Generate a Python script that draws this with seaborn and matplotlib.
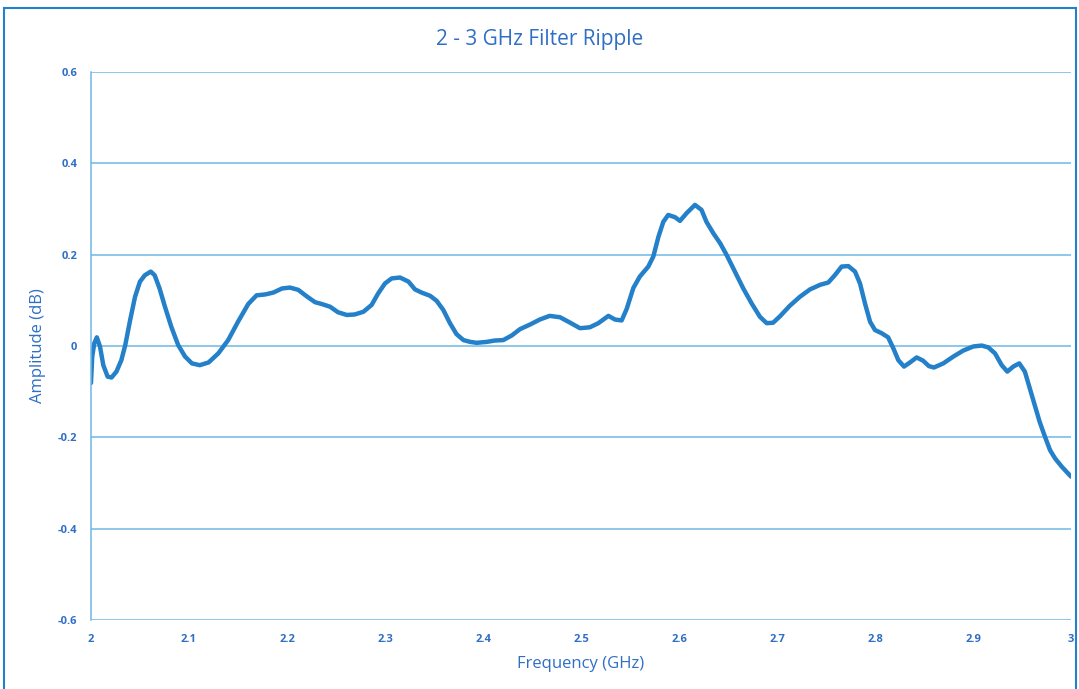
import matplotlib.pyplot as plt
import matplotlib.ticker as ticker
import pandas as pd
import seaborn as sns
from matplotlib.patches import Rectangle

# values
freq_ghz = [
    2.0000, 2.0013, 2.0034, 2.0060, 2.0092, 2.0126, 2.0170, 2.0210, 2.0260, 2.0310,
    2.0350, 2.0400, 2.0450, 2.0500, 2.0550, 2.0610, 2.0650, 2.0700, 2.0755, 2.0820,
    2.0890, 2.0960, 2.1030, 2.1110, 2.1200, 2.1300, 2.1400, 2.1500, 2.1605, 2.1690,
    2.1780, 2.1860, 2.1950, 2.2030, 2.2115, 2.2200, 2.2286, 2.2354, 2.2440, 2.2520,
    2.2610, 2.2690, 2.2780, 2.2864, 2.2930, 2.3000, 2.3068, 2.3153, 2.3240, 2.3306,
    2.3374, 2.3460, 2.3527, 2.3595, 2.3663, 2.3730, 2.3800, 2.3870, 2.3936, 2.4038,
    2.4120, 2.4207, 2.4293, 2.4378, 2.4480, 2.4580, 2.4680, 2.4786, 2.4890, 2.4990,
    2.5090, 2.5177, 2.5280, 2.5347, 2.5415, 2.5466, 2.5534, 2.5600, 2.5687, 2.5738,
    2.5790, 2.5840, 2.5890, 2.5960, 2.6010, 2.6078, 2.6163, 2.6230, 2.6280, 2.6350,
    2.6420, 2.6487, 2.6570, 2.6656, 2.6742, 2.6826, 2.6895, 2.6960, 2.7030, 2.7130,
    2.7235, 2.7337, 2.7440, 2.7523, 2.7590, 2.7660, 2.7728, 2.7796, 2.7847, 2.7898,
    2.7950, 2.8000, 2.8068, 2.8134, 2.8187, 2.8238, 2.8296, 2.8357, 2.8425, 2.8490,
    2.8550, 2.8602, 2.8697, 2.8800, 2.8900, 2.9003, 2.9089, 2.9156, 2.9224, 2.9293,
    2.9350, 2.9411, 2.9472, 2.9529, 2.9580, 2.9630, 2.9680, 2.9735, 2.9786, 2.9837,
    2.9905, 3.0000,
]
amplitude_db = [
    -0.081, -0.023, 0.006, 0.019, -0.001, -0.042, -0.067, -0.069, -0.056, -0.031,
    0.002, 0.057, 0.108, 0.141, 0.155, 0.163, 0.155, 0.126, 0.086, 0.042,
    0.002, -0.023, -0.038, -0.042, -0.036, -0.016, 0.013, 0.053, 0.092, 0.111,
    0.113, 0.117, 0.126, 0.128, 0.123, 0.109, 0.096, 0.092, 0.086, 0.074,
    0.068, 0.069, 0.075, 0.090, 0.115, 0.137, 0.148, 0.150, 0.141, 0.124,
    0.117, 0.110, 0.099, 0.079, 0.050, 0.026, 0.013, 0.009, 0.007, 0.009,
    0.012, 0.013, 0.023, 0.037, 0.047, 0.058, 0.066, 0.063, 0.051, 0.039,
    0.041, 0.050, 0.066, 0.058, 0.056, 0.081, 0.127, 0.152, 0.174, 0.196,
    0.239, 0.272, 0.287, 0.282, 0.274, 0.291, 0.309, 0.298, 0.272, 0.247,
    0.225, 0.199, 0.163, 0.126, 0.093, 0.064, 0.050, 0.051, 0.065, 0.088,
    0.108, 0.124, 0.134, 0.139, 0.155, 0.174, 0.175, 0.163, 0.137, 0.093,
    0.053, 0.035, 0.028, 0.019, -0.005, -0.031, -0.045, -0.036, -0.025, -0.032,
    -0.044, -0.047, -0.038, -0.023, -0.010, -0.001, 0.001, -0.003, -0.016, -0.042,
    -0.056, -0.045, -0.038, -0.056, -0.093, -0.129, -0.166, -0.199, -0.228, -0.246,
    -0.264, -0.286,
]
y_ticks = [-0.6, -0.4, -0.2, 0, 0.2, 0.4, 0.6]
x_ticks = [2, 2.1, 2.2, 2.3, 2.4, 2.5, 2.6, 2.7, 2.8, 2.9, 3]

line_blue = "#2480c8"
text_blue = "#2f6fc4"
grid_blue = "#6fb8e6"

sns.set_style("white")
plt.rcParams["font.family"] = ["Open Sans", "DejaVu Sans"]

df = pd.DataFrame({"freq": freq_ghz, "amp": amplitude_db})

fig = plt.figure(figsize=(10.79, 6.89), dpi=100)
ax = fig.add_axes([0.0843, 0.1001, 0.9083, 0.7954])

sns.lineplot(data=df, x="freq", y="amp", ax=ax, color=line_blue, linewidth=3.2,
             solid_joinstyle="round", solid_capstyle="round")

ax.set_xlim(2, 3)
ax.set_ylim(-0.6, 0.6)
ax.set_xticks(x_ticks)
ax.set_yticks(y_ticks)
ax.xaxis.set_major_formatter(ticker.FuncFormatter(lambda v, p: f"{v:g}"))
ax.yaxis.set_major_formatter(ticker.FuncFormatter(lambda v, p: f"{v:g}"))
ax.tick_params(length=0, labelsize=8, labelcolor=text_blue, pad=10)
for lab in ax.get_xticklabels() + ax.get_yticklabels():
    lab.set_fontweight("bold")

# horizontal gridlines only
ax.grid(axis="y", color=grid_blue, linewidth=1.1)
ax.grid(axis="x", visible=False)
for side in ["top", "right", "bottom"]:
    ax.spines[side].set_visible(False)
ax.spines["left"].set_color(grid_blue)
ax.spines["left"].set_linewidth(1.1)

ax.set_xlabel("Frequency (GHz)", fontsize=12, color=text_blue, labelpad=8)
ax.set_ylabel("Amplitude (dB)", fontsize=12, color=text_blue, labelpad=8)
fig.text(0.5, 0.942, "2 - 3 GHz Filter Ripple", ha="center", va="center",
         fontsize=15, color=text_blue)

# outer chart border
fig.patches.append(Rectangle((0.004, -0.01), 0.993, 0.998, transform=fig.transFigure,
                             fill=False, edgecolor=line_blue, linewidth=1.5))

fig.savefig("out.png", dpi=100)
